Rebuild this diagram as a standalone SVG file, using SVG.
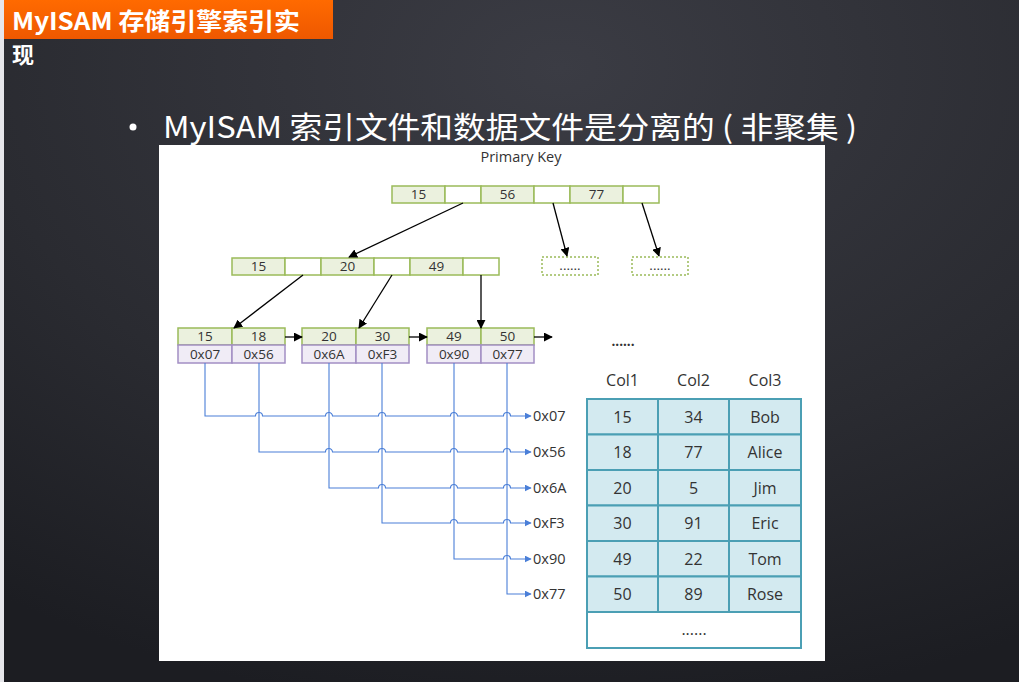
<svg xmlns="http://www.w3.org/2000/svg" width="1019" height="682" viewBox="0 0 1019 682">
  <defs>
    <radialGradient id="bg" cx="0.55" cy="0.1" r="0.95">
      <stop offset="0" stop-color="#3b3c44"/>
      <stop offset="0.6" stop-color="#2a2b31"/>
      <stop offset="1" stop-color="#1c1d22"/>
    </radialGradient>
    <linearGradient id="banner" x1="0" y1="0" x2="0" y2="1">
      <stop offset="0" stop-color="#ff6a00"/>
      <stop offset="1" stop-color="#ee5800"/>
    </linearGradient>
    <marker id="arr" viewBox="0 0 10 10" refX="9" refY="5" markerWidth="9" markerHeight="9" markerUnits="userSpaceOnUse" orient="auto">
      <path d="M0,0 L10,5 L0,10 z" fill="#000"/>
    </marker>
    <marker id="barr" viewBox="0 0 10 10" refX="9" refY="5" markerWidth="7" markerHeight="7" markerUnits="userSpaceOnUse" orient="auto">
      <path d="M0,0 L10,5 L0,10 z" fill="#4a7fd8"/>
    </marker>
  </defs>
  <style>
    .key { fill: #ebf1de; stroke: #9bbb59; stroke-width: 1.5; }
    .ptr { fill: #ffffff; stroke: #9bbb59; stroke-width: 1.5; }
    .addr { fill: #f0ecf6; stroke: #a38fc4; stroke-width: 1.5; }
    .dots { fill: #ffffff; stroke: #9bbb59; stroke-width: 1.5; stroke-dasharray: 2 2; }
    .t { font-family: "Open Sans", "Noto Sans", sans-serif; font-size: 13.5px; fill: #333; text-anchor: middle; }
    .tb { font-family: "Open Sans", "Noto Sans", sans-serif; font-size: 16px; fill: #333; text-anchor: middle; }
    .lbl { font-family: "Open Sans", "Noto Sans", sans-serif; font-size: 14.5px; fill: #333; }
    .edge { stroke: #000; stroke-width: 1.3; fill: none; marker-end: url(#arr); }
    .blue { stroke: #4a7fd8; stroke-width: 1.1; fill: none; }
    .cell { fill: #d3eaf0; stroke: #4b9fb4; stroke-width: 2; }
  </style>

  <!-- slide background -->
  <rect x="0" y="0" width="1019" height="682" fill="url(#bg)"/>
  <rect x="0" y="0" width="4" height="682" fill="#e6e6ea"/>

  <!-- title banner -->
  <g id="title">
    <rect x="4" y="0" width="329" height="39" fill="url(#banner)"/>
    <text x="12" y="30" font-family="'Noto Sans CJK SC', sans-serif" font-weight="bold" font-size="24" fill="#ffffff" textLength="288" lengthAdjust="spacingAndGlyphs">MyISAM 存储引擎索引实</text>
    <text x="12" y="63" font-family="'Noto Sans CJK SC', sans-serif" font-weight="bold" font-size="22" fill="#ffffff">现</text>
  </g>

  <!-- bullet -->
  <g id="bullet">
    <circle cx="133" cy="127" r="3.5" fill="#ffffff"/>
    <text x="163" y="138" font-family="'Noto Sans CJK SC', sans-serif" font-size="30" fill="#ffffff" textLength="694" lengthAdjust="spacingAndGlyphs">MyISAM 索引文件和数据文件是分离的 ( 非聚集 )</text>
  </g>

  <!-- diagram panel -->
  <rect x="159" y="145" width="666" height="516" fill="#ffffff"/>

  <text class="lbl" x="521" y="162" text-anchor="middle">Primary Key</text>

  <!-- root node -->
  <g id="root">
    <rect class="key" x="392" y="186" width="53" height="17"/>
    <rect class="ptr" x="445" y="186" width="36" height="17"/>
    <rect class="key" x="481" y="186" width="53" height="17"/>
    <rect class="ptr" x="534" y="186" width="36" height="17"/>
    <rect class="key" x="570" y="186" width="53" height="17"/>
    <rect class="ptr" x="623" y="186" width="36" height="17"/>
    <text class="t" x="418.5" y="199">15</text>
    <text class="t" x="507.5" y="199">56</text>
    <text class="t" x="596.5" y="199">77</text>
  </g>

  <!-- second level -->
  <g id="inner">
    <rect class="key" x="232" y="258" width="53" height="17"/>
    <rect class="ptr" x="285" y="258" width="36" height="17"/>
    <rect class="key" x="321" y="258" width="53" height="17"/>
    <rect class="ptr" x="374" y="258" width="36" height="17"/>
    <rect class="key" x="410" y="258" width="53" height="17"/>
    <rect class="ptr" x="463" y="258" width="36" height="17"/>
    <text class="t" x="258.5" y="271">15</text>
    <text class="t" x="347.5" y="271">20</text>
    <text class="t" x="436.5" y="271">49</text>
  </g>

  <g id="more1">
    <rect class="dots" x="542" y="257" width="56" height="18"/>
    <text class="t" x="570" y="270" font-size="10">......</text>
  </g>
  <g id="more2">
    <rect class="dots" x="632" y="257" width="56" height="18"/>
    <text class="t" x="660" y="270" font-size="10">......</text>
  </g>

  <!-- leaves -->
  <g id="leaf1">
    <rect class="key" x="178" y="328" width="54" height="17"/>
    <rect class="key" x="232" y="328" width="53" height="17"/>
    <rect class="addr" x="178" y="345" width="54" height="18"/>
    <rect class="addr" x="232" y="345" width="53" height="18"/>
    <text class="t" x="205" y="341">15</text>
    <text class="t" x="258.5" y="341">18</text>
    <text class="t" x="205" y="358.5">0x07</text>
    <text class="t" x="258.5" y="358.5">0x56</text>
  </g>
  <g id="leaf2">
    <rect class="key" x="302" y="328" width="54" height="17"/>
    <rect class="key" x="356" y="328" width="53" height="17"/>
    <rect class="addr" x="302" y="345" width="54" height="18"/>
    <rect class="addr" x="356" y="345" width="53" height="18"/>
    <text class="t" x="329" y="341">20</text>
    <text class="t" x="382.5" y="341">30</text>
    <text class="t" x="329" y="358.5">0x6A</text>
    <text class="t" x="382.5" y="358.5">0xF3</text>
  </g>
  <g id="leaf3">
    <rect class="key" x="427" y="328" width="54" height="17"/>
    <rect class="key" x="481" y="328" width="53" height="17"/>
    <rect class="addr" x="427" y="345" width="54" height="18"/>
    <rect class="addr" x="481" y="345" width="53" height="18"/>
    <text class="t" x="454" y="341">49</text>
    <text class="t" x="507.5" y="341">50</text>
    <text class="t" x="454" y="358.5">0x90</text>
    <text class="t" x="507.5" y="358.5">0x77</text>
  </g>
  <text class="t" x="623" y="346" font-size="17" font-weight="bold">......</text>

  <!-- tree pointers -->
  <g id="connectors">
    <line class="edge" x1="463" y1="203" x2="349" y2="257"/>
    <line class="edge" x1="553" y1="203" x2="567" y2="256"/>
    <line class="edge" x1="642" y1="203" x2="659" y2="256"/>
    <line class="edge" x1="303" y1="275" x2="234" y2="328"/>
    <line class="edge" x1="392" y1="275" x2="359" y2="328"/>
    <line class="edge" x1="481" y1="275" x2="481" y2="328"/>
    <line class="edge" x1="285" y1="337" x2="302" y2="337"/>
    <line class="edge" x1="409" y1="337" x2="427" y2="337"/>
    <line class="edge" x1="534" y1="337" x2="552" y2="337"/>

    <!-- row address links with line jumps -->
    <path class="blue" d="M205,363 V416 H255.5 a3.5,3.5 0 0 1 7,0 H325.5 a3.5,3.5 0 0 1 7,0 H378.5 a3.5,3.5 0 0 1 7,0 H450.5 a3.5,3.5 0 0 1 7,0 H503.5 a3.5,3.5 0 0 1 7,0 H531" marker-end="url(#barr)"/>
    <path class="blue" d="M259,363 V452 H325.5 a3.5,3.5 0 0 1 7,0 H378.5 a3.5,3.5 0 0 1 7,0 H450.5 a3.5,3.5 0 0 1 7,0 H503.5 a3.5,3.5 0 0 1 7,0 H531" marker-end="url(#barr)"/>
    <path class="blue" d="M329,363 V488 H378.5 a3.5,3.5 0 0 1 7,0 H450.5 a3.5,3.5 0 0 1 7,0 H503.5 a3.5,3.5 0 0 1 7,0 H531" marker-end="url(#barr)"/>
    <path class="blue" d="M382,363 V523 H450.5 a3.5,3.5 0 0 1 7,0 H503.5 a3.5,3.5 0 0 1 7,0 H531" marker-end="url(#barr)"/>
    <path class="blue" d="M454,363 V559 H503.5 a3.5,3.5 0 0 1 7,0 H531" marker-end="url(#barr)"/>
    <path class="blue" d="M507,363 V594 H531" marker-end="url(#barr)"/>
  </g>

  <g id="addr-labels">
    <text class="lbl" x="533" y="421">0x07</text>
    <text class="lbl" x="533" y="457">0x56</text>
    <text class="lbl" x="533" y="493">0x6A</text>
    <text class="lbl" x="533" y="528">0xF3</text>
    <text class="lbl" x="533" y="564">0x90</text>
    <text class="lbl" x="533" y="599">0x77</text>
  </g>

  <!-- data file -->
  <g id="table">
    <text class="tb" x="622.5" y="386">Col1</text>
    <text class="tb" x="693.5" y="386">Col2</text>
    <text class="tb" x="765" y="386">Col3</text>

    <rect class="cell" x="587" y="399" width="71" height="35.5"/>
    <rect class="cell" x="658" y="399" width="71" height="35.5"/>
    <rect class="cell" x="729" y="399" width="72" height="35.5"/>
    <rect class="cell" x="587" y="434.5" width="71" height="35.5"/>
    <rect class="cell" x="658" y="434.5" width="71" height="35.5"/>
    <rect class="cell" x="729" y="434.5" width="72" height="35.5"/>
    <rect class="cell" x="587" y="470" width="71" height="35.5"/>
    <rect class="cell" x="658" y="470" width="71" height="35.5"/>
    <rect class="cell" x="729" y="470" width="72" height="35.5"/>
    <rect class="cell" x="587" y="505.5" width="71" height="35.5"/>
    <rect class="cell" x="658" y="505.5" width="71" height="35.5"/>
    <rect class="cell" x="729" y="505.5" width="72" height="35.5"/>
    <rect class="cell" x="587" y="541" width="71" height="35.5"/>
    <rect class="cell" x="658" y="541" width="71" height="35.5"/>
    <rect class="cell" x="729" y="541" width="72" height="35.5"/>
    <rect class="cell" x="587" y="576.5" width="71" height="35.5"/>
    <rect class="cell" x="658" y="576.5" width="71" height="35.5"/>
    <rect class="cell" x="729" y="576.5" width="72" height="35.5"/>
    <rect x="587" y="612" width="214" height="36" fill="#ffffff" stroke="#4b9fb4" stroke-width="2"/>

    <text class="tb" x="622.5" y="422.5">15</text>
    <text class="tb" x="693.5" y="422.5">34</text>
    <text class="tb" x="765" y="422.5">Bob</text>
    <text class="tb" x="622.5" y="458">18</text>
    <text class="tb" x="693.5" y="458">77</text>
    <text class="tb" x="765" y="458">Alice</text>
    <text class="tb" x="622.5" y="493.5">20</text>
    <text class="tb" x="693.5" y="493.5">5</text>
    <text class="tb" x="765" y="493.5">Jim</text>
    <text class="tb" x="622.5" y="529">30</text>
    <text class="tb" x="693.5" y="529">91</text>
    <text class="tb" x="765" y="529">Eric</text>
    <text class="tb" x="622.5" y="564.5">49</text>
    <text class="tb" x="693.5" y="564.5">22</text>
    <text class="tb" x="765" y="564.5">Tom</text>
    <text class="tb" x="622.5" y="600">50</text>
    <text class="tb" x="693.5" y="600">89</text>
    <text class="tb" x="765" y="600">Rose</text>
    <text class="tb" x="694" y="635" font-size="11">......</text>
  </g>
</svg>
